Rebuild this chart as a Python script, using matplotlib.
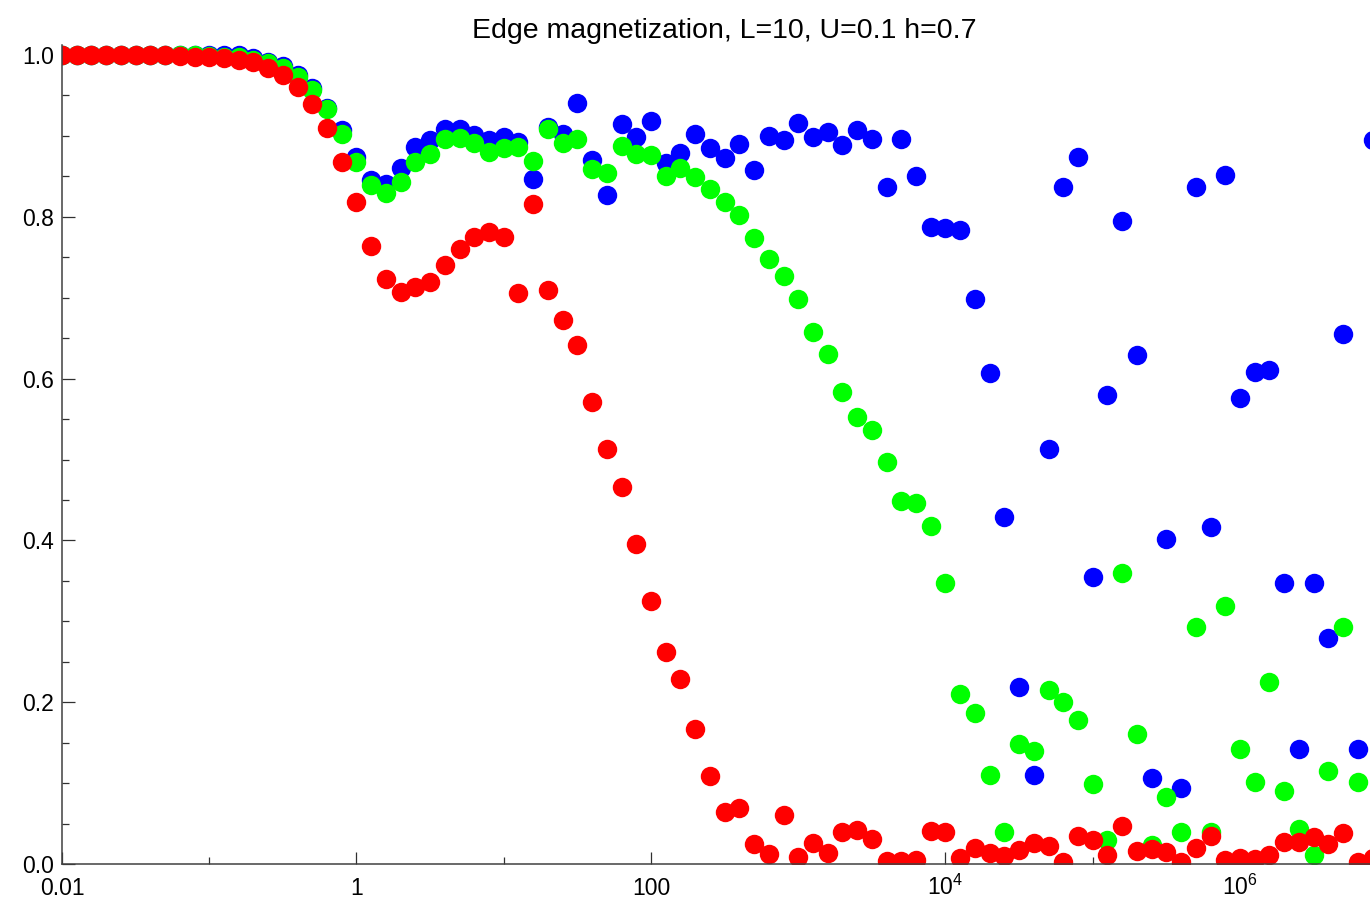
import matplotlib
matplotlib.use('Agg')
import matplotlib.pyplot as plt
import numpy as np

matplotlib.rcParams.update({'font.family': ['Liberation Sans', 'DejaVu Sans']})
matplotlib.rcParams.update({'mathtext.fontset': 'custom'})
matplotlib.rcParams.update({'mathtext.rm': 'Liberation Sans'})

# Data -----------------------------------------------------------------------
# 10 points per decade, starting at 0.01
t = np.logspace(-2, 6.9, 90)

blue = [1.0, 1.0, 1.0, 1.0, 1.0, 1.0, 1.0, 1.0, 1.0, 1.0,
        1.0, 1.0, 1.0, 0.996, 0.992, 0.986, 0.975, 0.959, 0.935, 0.907,
        0.874, 0.845, 0.840, 0.860, 0.886, 0.895, 0.909, 0.908, 0.901, 0.895,
        0.899, 0.893, 0.847, 0.911, 0.903, 0.941, 0.870, 0.827, 0.915, 0.899,
        0.918, 0.866, 0.879, 0.903, 0.885, 0.873, 0.890, 0.858, 0.900, 0.895,
        0.916, 0.899, 0.905, 0.889, 0.907, 0.896, 0.837, 0.896, 0.850, 0.787,
        0.786, 0.784, 0.698, 0.607, 0.429, 0.219, 0.110, 0.513, 0.837, 0.874,
        0.355, 0.580, 0.795, 0.629, 0.106, 0.402, 0.094, 0.837, 0.417, 0.852,
        0.576, 0.608, 0.611, 0.347, 0.142, 0.347, 0.279, 0.655, 0.142, 0.895]

green = [1.0, 1.0, 1.0, 1.0, 1.0, 1.0, 1.0, 1.0, 1.0, 1.0,
         0.999, 0.998, 0.997, 0.994, 0.990, 0.984, 0.973, 0.957, 0.933, 0.903,
         0.868, 0.839, 0.829, 0.843, 0.868, 0.878, 0.896, 0.897, 0.891, 0.880,
         0.885, 0.886, 0.869, 0.908, 0.891, 0.896, 0.859, 0.854, 0.887, 0.878,
         0.876, 0.850, 0.860, 0.849, 0.834, 0.818, 0.802, 0.774, 0.748, 0.727,
         0.698, 0.658, 0.630, 0.583, 0.553, 0.536, 0.497, 0.449, 0.446, 0.418,
         0.347, 0.210, 0.187, 0.110, 0.040, 0.148, 0.140, 0.215, 0.200, 0.178,
         0.099, 0.030, 0.360, 0.161, 0.024, 0.083, 0.040, 0.293, 0.040, 0.319,
         0.142, 0.101, 0.225, 0.090, 0.043, 0.011, 0.115, 0.293, 0.101]

red = [1.0, 1.0, 1.0, 1.0, 1.0, 1.0, 1.0, 1.0, 0.999, 0.998,
       0.997, 0.996, 0.994, 0.991, 0.984, 0.975, 0.960, 0.940, 0.910, 0.868,
       0.818, 0.764, 0.723, 0.707, 0.713, 0.720, 0.740, 0.760, 0.775, 0.781,
       0.775, 0.706, 0.816, 0.710, 0.672, 0.641, 0.571, 0.513, 0.466, 0.396,
       0.325, 0.262, 0.229, 0.167, 0.109, 0.064, 0.069, 0.025, 0.012, 0.060,
       0.009, 0.026, 0.014, 0.040, 0.042, 0.031, 0.004, 0.004, 0.005, 0.041,
       0.039, 0.008, 0.020, 0.013, 0.010, 0.017, 0.026, 0.022, 0.003, 0.034,
       0.030, 0.011, 0.047, 0.016, 0.018, 0.015, 0.003, 0.020, 0.034, 0.005,
       0.007, 0.006, 0.011, 0.027, 0.027, 0.033, 0.025, 0.038, 0.003, 0.007]

xticks = [1e-2, 1, 1e2, 1e4, 1e6]
xtick_labels = ['0.01', '1', '100', r'$\mathregular{10^{4}}$', r'$\mathregular{10^{6}}$']
xminor = [1e-1, 1e1, 1e3, 1e5]
yticks = [0.0, 0.2, 0.4, 0.6, 0.8, 1.0]

# -----------------------------------------------------------------------------

fig = plt.figure(figsize=(13.7, 9), dpi=100)
ax = fig.add_axes([62 / 1370, 36 / 900, 1 - 62 / 1370, 819 / 900])

ax.plot(t[:len(blue)], blue, 'o', color='#0000ff', ms=14, mec='none')
ax.plot(t[:len(green)], green, 'o', color='#00ff00', ms=14, mec='none')
ax.plot(t[:len(red)], red, 'o', color='#ff0000', ms=14, mec='none')

ax.set_xscale('log')
ax.set_xlim(1e-2, 10 ** 6.883)
ax.set_ylim(0, 1.0124)

ax.set_xticks(xticks)
ax.set_xticklabels(xtick_labels)
ax.set_xticks(xminor, minor=True)
ax.set_xticklabels([], minor=True)
ax.set_yticks(yticks)
ax.set_yticklabels(['{:.1f}'.format(v) for v in yticks])
ax.set_yticks(np.arange(0.05, 1.0, 0.05), minor=True)

for s in ['top', 'right']:
    ax.spines[s].set_visible(False)
for s in ['bottom', 'left']:
    ax.spines[s].set_color('#404040')
    ax.spines[s].set_linewidth(1.1)

ax.tick_params(which='major', direction='in', length=9, width=0.9,
               color='#303030', labelsize=16.5, labelcolor='black')
ax.tick_params(which='minor', direction='in', length=5, width=0.9,
               color='#303030')
ax.tick_params(axis='y', pad=6)
ax.tick_params(axis='x', pad=22)
for lbl in ax.get_xticklabels():
    lbl.set_verticalalignment('baseline')

ax.set_title('Edge magnetization, L=10, U=0.1 h=0.7', fontsize=20.5, pad=5,
             x=0.506)

plt.savefig('out.png', dpi=100)
